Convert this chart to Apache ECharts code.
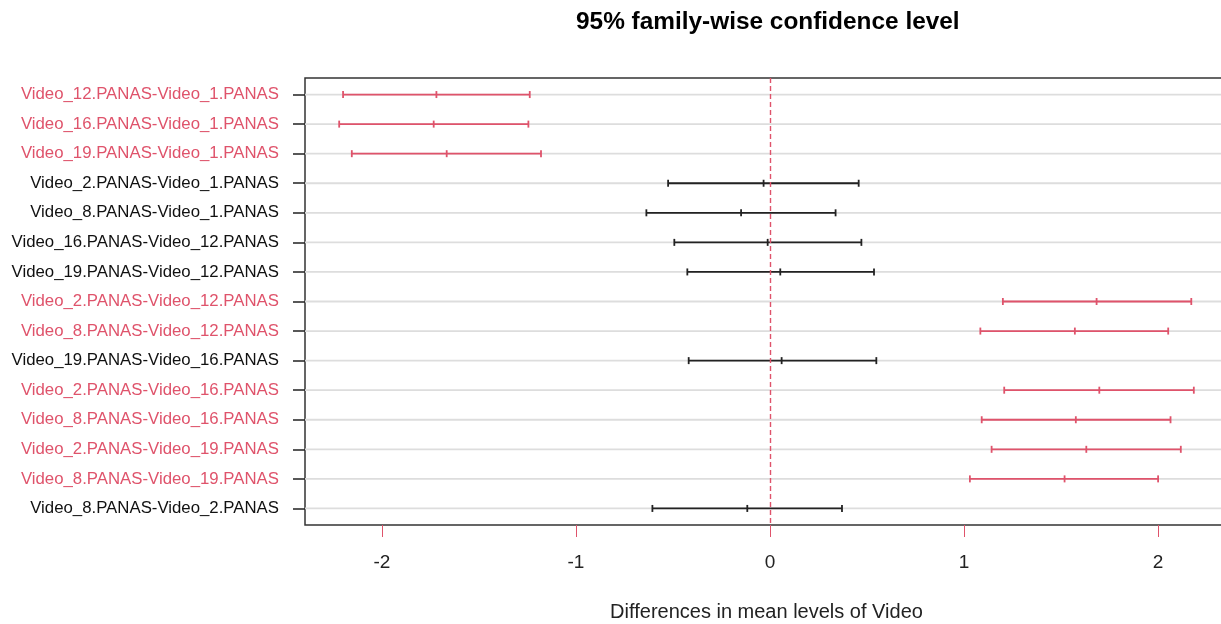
<!DOCTYPE html>
<html><head><meta charset="utf-8">
<script src="https://cdn.jsdelivr.net/npm/echarts@6/dist/echarts.min.js"></script>
<style>html,body{margin:0;padding:0;background:#fff}#c{width:1221px;height:624px}</style>
</head><body><div id="c"></div>
<script>
const comparisons = [
  "Video_12.PANAS-Video_1.PANAS",
  "Video_16.PANAS-Video_1.PANAS",
  "Video_19.PANAS-Video_1.PANAS",
  "Video_2.PANAS-Video_1.PANAS",
  "Video_8.PANAS-Video_1.PANAS",
  "Video_16.PANAS-Video_12.PANAS",
  "Video_19.PANAS-Video_12.PANAS",
  "Video_2.PANAS-Video_12.PANAS",
  "Video_8.PANAS-Video_12.PANAS",
  "Video_19.PANAS-Video_16.PANAS",
  "Video_2.PANAS-Video_16.PANAS",
  "Video_8.PANAS-Video_16.PANAS",
  "Video_2.PANAS-Video_19.PANAS",
  "Video_8.PANAS-Video_19.PANAS",
  "Video_8.PANAS-Video_2.PANAS"
];
const diff = [-1.719, -1.733, -1.666, -0.033, -0.149, -0.012, 0.053, 1.683, 1.571, 0.060, 1.697, 1.576, 1.630, 1.518, -0.117];
const lwr  = [-2.200, -2.220, -2.155, -0.525, -0.637, -0.493, -0.426, 1.200, 1.084, -0.419, 1.207, 1.091, 1.142, 1.030, -0.606];
const upr  = [-1.238, -1.245, -1.180, 0.457, 0.338, 0.471, 0.536, 2.171, 2.052, 0.548, 2.184, 2.064, 2.117, 2.000, 0.371];
const xTicks = [-2, -1, 0, 1, 2];

const PINK = '#DF536B', BLACK = '#222222';
const FONT = 'Liberation Sans, Arial, sans-serif';
const isSig = i => lwr[i] > 0 || upr[i] < 0;
const rows = comparisons.map((_, i) => i + 1);
const data = comparisons.map((_, i) => [lwr[i], diff[i], upr[i], i + 1]);

const rng = Math.max(...upr) - Math.min(...lwr);
const xMin = Math.min(...lwr) - 0.04 * rng;
const xMax = Math.max(...upr) + 0.04 * rng;

const chart = echarts.init(document.getElementById('c'), null, {renderer: 'canvas'});
chart.setOption({
  animation: false,
  backgroundColor: '#fff',
  title: {
    text: '95% family-wise confidence level',
    left: 571, top: 5,
    textStyle: {fontFamily: FONT, fontWeight: 'bold', fontSize: 24.4, color: '#000'}
  },
  grid: {left: 305, right: -7, top: 78, bottom: 99, show: true, borderColor: '#333', borderWidth: 1.5, outerBoundsMode: 'none', containLabel: false},
  xAxis: {
    type: 'value', min: xMin, max: xMax,
    name: 'Differences in mean levels of Video', nameLocation: 'middle', nameGap: 77,
    nameTextStyle: {fontFamily: FONT, fontSize: 20, color: '#222'},
    axisLine: {show: false, onZero: false},
    axisTick: {show: true, length: 12, inside: false, customValues: xTicks, lineStyle: {color: PINK, width: 1}},
    axisLabel: {show: true, margin: 28, customValues: xTicks, fontFamily: FONT, fontSize: 19, color: '#222',
      formatter: v => String(Math.round(v))},
    splitLine: {show: false}
  },
  yAxis: {
    type: 'value', inverse: true, min: 0.44, max: 15.56,
    axisLine: {show: false, onZero: false},
    axisTick: {show: true, length: 12, customValues: rows, lineStyle: {color: '#222', width: 1.5}},
    axisLabel: {show: true, margin: 26, customValues: rows,
      formatter: v => { const i = Math.round(v) - 1; return '{' + (isSig(i) ? 'r' : 'k') + '|' + comparisons[i] + '}'; },
      rich: {
        r: {fontFamily: FONT, fontSize: 16.8, color: PINK},
        k: {fontFamily: FONT, fontSize: 16.8, color: '#111'}
      }
    },
    splitLine: {show: false}
  },
  series: [
    {
      type: 'custom',
      z: 2,
      data: data,
      encode: {x: [0, 1, 2], y: 3},
      renderItem: (params, api) => {
        const y = api.value(3);
        const cs = params.coordSys;
        const l = api.coord([api.value(0), y]);
        const m = api.coord([api.value(1), y]);
        const u = api.coord([api.value(2), y]);
        const col = (api.value(0) > 0 || api.value(2) < 0) ? PINK : BLACK;
        const h = 3.5;
        const st = {stroke: col, lineWidth: 1.8};
        return {type: 'group', children: [
          {type: 'line', shape: {x1: cs.x, y1: l[1], x2: cs.x + cs.width, y2: l[1]}, style: {stroke: '#DDDDDD', lineWidth: 1.8}},
          {type: 'line', shape: {x1: l[0], y1: l[1], x2: u[0], y2: u[1]}, style: st},
          {type: 'line', shape: {x1: l[0], y1: l[1] - h, x2: l[0], y2: l[1] + h}, style: st},
          {type: 'line', shape: {x1: m[0], y1: m[1] - h, x2: m[0], y2: m[1] + h}, style: st},
          {type: 'line', shape: {x1: u[0], y1: u[1] - h, x2: u[0], y2: u[1] + h}, style: st}
        ]};
      }
    },
    {
      type: 'line', data: [], z: 5,
      markLine: {
        silent: true, symbol: ['none', 'none'], label: {show: false},
        lineStyle: {color: PINK, type: [5, 3], width: 1.4},
        data: [{xAxis: 0}]
      }
    }
  ]
});
</script></body></html>
